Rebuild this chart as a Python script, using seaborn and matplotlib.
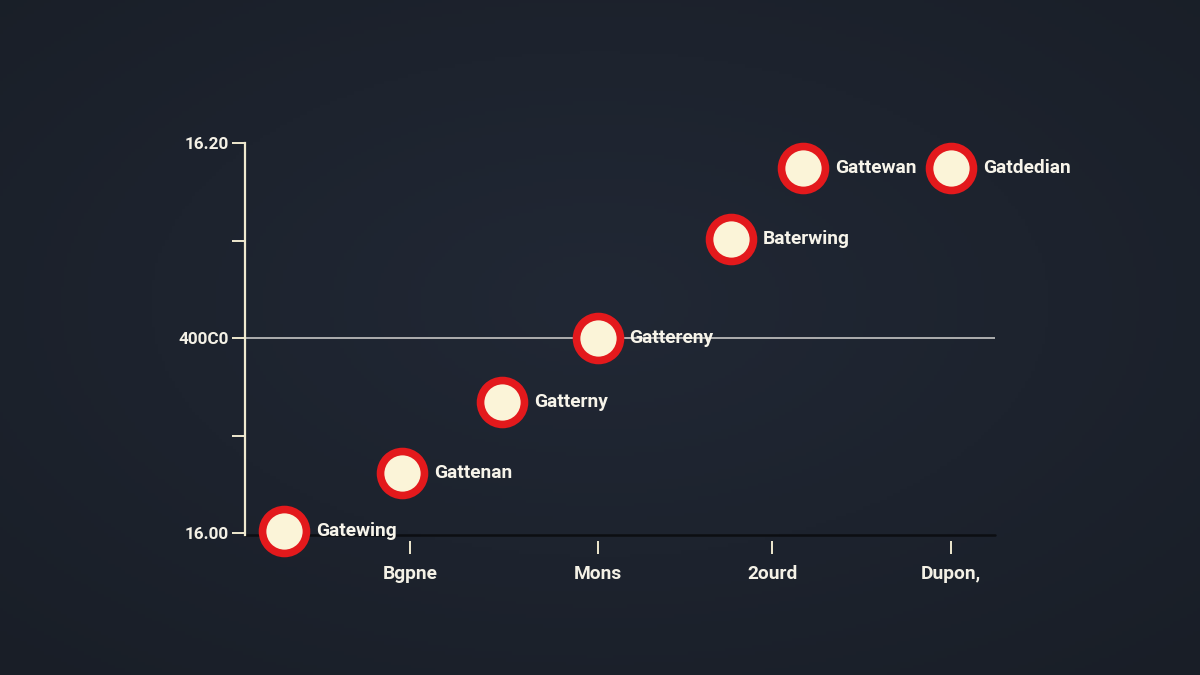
import numpy as np
import pandas as pd
import matplotlib
matplotlib.use("Agg")
import matplotlib.pyplot as plt
import seaborn as sns

# ---- data ----
labels = ["Gatewing", "Gattenan", "Gatterny", "Gattereny", "Baterwing", "Gattewan", "Gatdedian"]
x_vals = [0.30, 0.955, 1.51, 2.04, 2.78, 3.18, 4.00]
y_vals = [16.001, 16.031, 16.067, 16.100, 16.151, 16.187, 16.187]
x_tick_pos = [1.0, 2.04, 3.01, 4.0]
x_tick_labels = ["Bgpne", "Mons", "2ourd", "Dupon,"]
y_tick_pos = [16.00, 16.05, 16.10, 16.15, 16.20]
y_tick_labels = ["16.00", "", "400C0", "", "16.20"]

df = pd.DataFrame({"x": x_vals, "y": y_vals, "label": labels})

sns.set_theme(style="white")
plt.rcParams["font.family"] = ["Roboto", "DejaVu Sans"]

W, H = 1200, 675
fig = plt.figure(figsize=(W / 100, H / 100), dpi=100)

# background gradient
bg = fig.add_axes([0, 0, 1, 1], zorder=-10)
yy, xx = np.mgrid[0:1:200j, 0:1:356j]
r = np.sqrt(((xx - 0.5) / 0.75) ** 2 + ((yy - 0.55) / 0.75) ** 2)
base = np.array([0x21, 0x28, 0x35]) / 255.0
edge = np.array([0x19, 0x1e, 0x27]) / 255.0
t = np.clip(r, 0, 1)[..., None]
img = base * (1 - t) + edge * t
bg.imshow(img, aspect="auto", extent=[0, 1, 0, 1], origin="lower")
bg.axis("off")

ax = fig.add_axes([245 / W, 1 - 535 / H, 750 / W, 392 / H])
ax.set_facecolor("none")

ax.axhline(16.10, color="#b9b9b9", lw=1.3, zorder=1)

sns.scatterplot(data=df, x="x", y="y", ax=ax, s=1000, color="#fbf4d8",
                edgecolor="#e3191c", linewidth=5.5, zorder=5, legend=False,
                clip_on=False)

for xv, yv, lab in zip(x_vals, y_vals, labels):
    ax.annotate(lab, (xv, yv), xytext=(23, 0), textcoords="offset points",
                ha="left", va="center", color="#f7f4ea", fontsize=13.8,
                fontweight="bold", zorder=6, annotation_clip=False)

ax.set_xlim(0.085, 4.244)
ax.set_ylim(15.999, 16.20)

ax.set_xticks(x_tick_pos)
ax.set_xticklabels(x_tick_labels)
ax.set_yticks(y_tick_pos)
ax.set_yticklabels(y_tick_labels)
ax.set_xlabel("")
ax.set_ylabel("")

for s in ["top", "right"]:
    ax.spines[s].set_visible(False)
ax.spines["left"].set_color("#efe9cf")
ax.spines["left"].set_linewidth(1.6)
ax.spines["left"].set_zorder(3)
ax.spines["bottom"].set_position(("outward", 4))
ax.spines["bottom"].set_visible(False)
ax.axhline(15.999, color="#0c0e12", lw=1.8, zorder=2, clip_on=False)

ax.tick_params(axis="y", left=True, direction="out", length=9.5, width=1.4,
               color="#efe9cf", pad=2, labelsize=12.3, labelcolor="#f4f1e6")
ax.tick_params(axis="x", bottom=True, direction="out", length=9.5, width=1.4,
               color="#efe9cf", pad=8, labelsize=13.8, labelcolor="#f4f1e6")
for lab in ax.get_yticklabels() + ax.get_xticklabels():
    lab.set_fontweight("bold")
ax.grid(False)

fig.savefig("out.png", dpi=100, facecolor=fig.get_facecolor())
